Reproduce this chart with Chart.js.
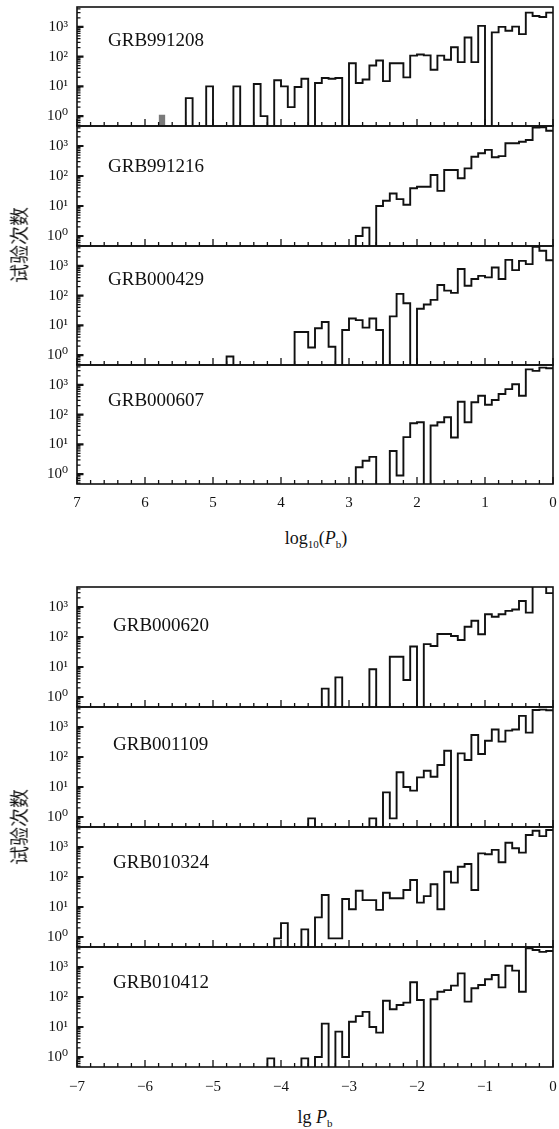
<!DOCTYPE html>
<html><head><meta charset="utf-8">
<script src="https://cdn.jsdelivr.net/npm/chart.js@4.4.1/dist/chart.umd.min.js"></script>
<style>
html,body{margin:0;padding:0;background:#fff;}
body{width:559px;height:1129px;position:relative;overflow:hidden;}
canvas{position:absolute;left:0;}
.lbl{position:absolute;font-family:"Liberation Serif","DejaVu Serif",serif;color:#111;white-space:nowrap;line-height:1;}
.name{font-size:19px;transform:translateY(-50%);}
.ytitle{font-family:"Noto Sans CJK SC",sans-serif;font-size:19px;transform:translate(-50%,-50%) rotate(-90deg);}
.xtitle{font-size:18px;transform:translate(-50%,-50%);}
.xtitle sub{font-size:11px;vertical-align:baseline;position:relative;top:4px;}
</style></head><body>
<script>
// ---------------- data ----------------
const BIN_WIDTH = 0.1;
const yTickValues = [1, 10, 100, 1000];
const yTickLabels = ['10\u2070', '10\u00B9', '10\u00B2', '10\u00B3'];
const xTickValuesTop = [7, 6, 5, 4, 3, 2, 1, 0];
const xTickLabelsTop = ['7', '6', '5', '4', '3', '2', '1', '0'];
const xTickValuesBottom = [-7, -6, -5, -4, -3, -2, -1, 0];
const xTickLabelsBottom = ['\u22127', '\u22126', '\u22125', '\u22124', '\u22123', '\u22122', '\u22121', '0'];

const panelNamesTop = ['GRB991208', 'GRB991216', 'GRB000429', 'GRB000607'];
const panelNamesBottom = ['GRB000620', 'GRB001109', 'GRB010324', 'GRB010412'];

// counts per bin (70 bins of 0.1, listed left to right)
const grb991208 = [
  0,0,0,0,0,0,0,0,0,0,
  0,0,0,0,0,0,4,0,0,10,
  0,0,0,10,0,0,12,1,0,16,
  10,2,9.5,18,0,13,19,18,19,0,
  60,13,17,50,74,15,60,60,20,108,
  117,110,36,108,78,205,65,440,65,1080,
  0,650,1000,740,1020,570,3000,2300,2150,3000];
const grb991208Shaded = [{bin: 12, count: 1.1}];
const grb991216 = [
  0,0,0,0,0,0,0,0,0,0,
  0,0,0,0,0,0,0,0,0,0,
  0,0,0,0,0,0,0,0,0,0,
  0,0,0,0,0,0,0,0,0,0,
  0,1,1.9,0,10,15,26,17,11,39,
  44,44,108,32,158,158,84,180,440,570,
  740,420,460,1230,1230,1390,1580,4100,4200,3240];
const grb000429 = [
  0,0,0,0,0,0,0,0,0,0,
  0,0,0,0,0,0,0,0,0,0,
  0,0,0.9,0,0,0,0,0,0,0,
  0,0,6,6,1.8,8,13,1.9,0,7,
  17,15,8.4,17,7,0,20,114,55,0,
  36,50,72,228,147,123,780,215,360,460,
  410,880,360,1590,720,1470,1140,4400,3200,1540];
const grb000607 = [
  0,0,0,0,0,0,0,0,0,0,
  0,0,0,0,0,0,0,0,0,0,
  0,0,0,0,0,0,0,0,0,0,
  0,0,0,0,0,0,0,0,0,0,
  0,1.7,2.8,3.8,0,0,6,0.9,17.5,51,
  55,0,43,55,81,17,270,55,260,430,
  215,310,490,720,1050,430,3300,2950,3800,3600];
const grb000620 = [
  0,0,0,0,0,0,0,0,0,0,
  0,0,0,0,0,0,0,0,0,0,
  0,0,0,0,0,0,0,0,0,0,
  0,0,0,0,0,0,1.9,0,4.5,0,
  0,0,0,8.4,0,0,22,22,3.7,48,
  0,58,50,126,126,108,79,220,350,123,
  570,475,570,740,830,1590,650,20000,20000,2900];
const grb001109 = [
  0,0,0,0,0,0,0,0,0,0,
  0,0,0,0,0,0,0,0,0,0,
  0,0,0,0,0,0,0,0,0,0,
  0,0,0,0,0.9,0,0,0,0,0,
  0,0,0,0.9,0,6.6,0.9,31,10,7.6,
  21,35,22,54,162,0,132,79,540,126,
  350,830,325,760,830,2340,650,3700,3800,3600];
const grb010324 = [
  0,0,0,0,0,0,0,0,0,0,
  0,0,0,0,0,0,0,0,0,0,
  0,0,0,0,0,0,0,0,0,0.9,
  2.9,0,0,1.8,0,4.5,25,0.9,0.9,18.5,
  8.4,35,17,17,8,30,19.5,19.5,37,79,
  14,23,57,8.4,150,65,220,270,37,615,
  570,800,310,1390,910,650,2500,3500,2300,3700];
const grb010412 = [
  0,0,0,0,0,0,0,0,0,0,
  0,0,0,0,0,0,0,0,0,0,
  0,0,0,0,0,0,0,0,0.9,0,
  0,0,0,0.9,0,1,13,0,7,1,
  15,23,32,10,6.5,75,39,54,65,310,
  79,0,84,150,170,240,615,70,195,250,
  390,540,210,1100,760,150,4200,3700,3200,3400];

// ---------------- layout ----------------
const W = 559, AXIS_LEFT = 77, RIGHT_PAD = 6, PAD = 6, XAXIS_H = 34;
const YMIN = Math.pow(10, -1/3), YMAX = Math.pow(10, 11/3);
const FLOOR = 0.01;
const SERIF = "'Liberation Serif','DejaVu Serif',serif";

const framePlugin = {
  id: 'frame',
  afterDatasetsDraw(chart) {
    const {ctx, chartArea: a} = chart;
    const x = chart.scales.x, y = chart.scales.y;
    ctx.save();
    ctx.strokeStyle = '#111';
    ctx.lineWidth = 1.3;
    ctx.beginPath();
    for (let k = 0; k <= 35; k++) {
      const px = x.getPixelForValue(x.min + k * 0.2);
      const len = (k % 5 === 0) ? 7 : 4;
      ctx.moveTo(px, a.bottom); ctx.lineTo(px, a.bottom - len);
    }
    for (let d = -1; d <= 3; d++) for (let m = 2; m <= 9; m++) {
      const v = m * Math.pow(10, d);
      if (v < y.min || v > y.max) continue;
      const py = y.getPixelForValue(v);
      ctx.moveTo(a.left, py); ctx.lineTo(a.left + 3.5, py);
    }
    ctx.stroke();
    ctx.lineWidth = 2.2;
    ctx.beginPath();
    yTickValues.forEach(v => {
      const py = y.getPixelForValue(v);
      ctx.moveTo(a.left, py); ctx.lineTo(a.left + 6.5, py);
    });
    ctx.stroke();
    ctx.lineWidth = 1.6;
    ctx.strokeRect(a.left, a.top, a.right - a.left, a.bottom - a.top);
    ctx.restore();
  }
};

function makePanel(cfg) {
  const showX = cfg.showX;
  const ch = PAD + cfg.height + (showX ? XAXIS_H : PAD);
  const canvas = document.createElement('canvas');
  canvas.width = W; canvas.height = ch;
  canvas.style.width = W + 'px'; canvas.style.height = ch + 'px';
  canvas.style.top = (cfg.top - PAD) + 'px';
  document.body.appendChild(canvas);

  const edge = j => +(cfg.start + cfg.dir * j * BIN_WIDTH).toFixed(3);
  const pts = cfg.values.map((v, j) => ({x: edge(j), y: v > 0 ? v : FLOOR}));
  pts.push({x: edge(cfg.values.length), y: pts[pts.length - 1].y});

  const datasets = [{
    data: pts, stepped: true, borderColor: '#111', borderWidth: 1.9,
    pointRadius: 0, fill: false, clip: 0, tension: 0
  }];
  (cfg.shaded || []).forEach(s => {
    datasets.push({
      data: [{x: edge(s.bin), y: s.count}, {x: edge(s.bin + 1), y: s.count}],
      stepped: true, borderColor: 'rgba(0,0,0,0)', borderWidth: 0,
      backgroundColor: '#7a7a7a', fill: 'start', pointRadius: 0, clip: 0
    });
  });

  new Chart(canvas, {
    type: 'line',
    data: {datasets},
    plugins: [framePlugin],
    options: {
      responsive: false, animation: false, devicePixelRatio: 1,
      layout: {padding: {left: 0, right: RIGHT_PAD, top: PAD, bottom: showX ? 0 : PAD}},
      plugins: {legend: {display: false}, tooltip: {enabled: false}},
      scales: {
        x: {
          type: 'linear', min: cfg.xMin, max: cfg.xMax, reverse: cfg.reverse,
          display: showX,
          grid: {display: false, drawTicks: false}, border: {display: false},
          afterBuildTicks: s => { s.ticks = cfg.tickValues.map(v => ({value: v})); },
          afterFit: s => {
            s.height = showX ? XAXIS_H : 0;
            s.paddingLeft = 0; s.paddingRight = 0; s.paddingTop = 0; s.paddingBottom = 0;
          },
          ticks: {
            padding: cfg.tickPad, maxRotation: 0, autoSkip: false,
            color: '#111', font: {family: SERIF, size: 15},
            callback: (v, i) => cfg.tickLabels[i]
          }
        },
        y: {
          type: 'logarithmic', min: YMIN, max: YMAX,
          grid: {display: false, drawTicks: false}, border: {display: false},
          afterBuildTicks: s => { s.ticks = yTickValues.map(v => ({value: v})); },
          afterFit: s => {
            s.width = AXIS_LEFT;
            s.paddingTop = 0; s.paddingBottom = 0; s.paddingLeft = 0; s.paddingRight = 0;
          },
          ticks: {
            padding: 9, color: '#111', font: {family: SERIF, size: 15},
            callback: (v, i) => yTickLabels[i]
          }
        }
      }
    }
  });

  const lab = document.createElement('div');
  lab.className = 'lbl name';
  lab.textContent = cfg.name;
  lab.style.left = cfg.labelX + 'px';
  lab.style.top = (cfg.top + cfg.labelDy) + 'px';
  document.body.appendChild(lab);
}

// Top figure
const topTops = [7, 126, 246, 365], topHeights = [119, 120, 119, 119];
const topData = [grb991208, grb991216, grb000429, grb000607];
const topLabelDy = [32, 39, 32, 34];
topData.forEach((vals, i) => makePanel({
  top: topTops[i], height: topHeights[i], values: vals, name: panelNamesTop[i],
  start: 7, dir: -1, xMin: 0, xMax: 7, reverse: true,
  tickValues: xTickValuesTop, tickLabels: xTickLabelsTop, tickPad: 10,
  showX: i === 3, labelX: 108, labelDy: topLabelDy[i],
  shaded: i === 0 ? grb991208Shaded : null
}));

// Bottom figure
const botTops = [587, 707, 827, 947];
const botData = [grb000620, grb001109, grb010324, grb010412];
const botLabelDy = [37, 36, 34, 34];
botData.forEach((vals, i) => makePanel({
  top: botTops[i], height: 120, values: vals, name: panelNamesBottom[i],
  start: -7, dir: 1, xMin: -7, xMax: 0, reverse: false,
  tickValues: xTickValuesBottom, tickLabels: xTickLabelsBottom, tickPad: 11,
  showX: i === 3, labelX: 113, labelDy: botLabelDy[i]
}));

function addText(cls, html, x, y) {
  const d = document.createElement('div');
  d.className = 'lbl ' + cls;
  d.innerHTML = html;
  d.style.left = x + 'px'; d.style.top = y + 'px';
  document.body.appendChild(d);
}
addText('ytitle', '试验次数', 18, 245);
addText('ytitle', '试验次数', 18, 827);
addText('xtitle', 'log<sub>10</sub>(<i>P</i><sub>b</sub>)', 316, 538);
addText('xtitle', 'lg <i>P</i><sub>b</sub>', 315, 1117);
</script>
</body></html>
